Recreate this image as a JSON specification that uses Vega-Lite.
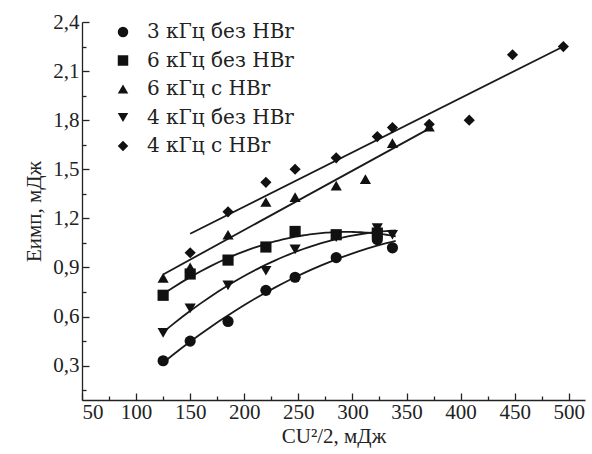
{
  "$schema": "https://vega.github.io/schema/vega-lite/v6.json",
  "width": 503,
  "height": 378,
  "autosize": "none",
  "padding": {"left": 82, "top": 22, "right": 7, "bottom": 54},
  "background": "white",
  "config": {
    "view": {"stroke": null},
    "font": "Liberation Serif",
    "axis": {"grid": false, "domainColor": "#222", "tickColor": "#222", "labelColor": "#222", "titleColor": "#222", "domainWidth": 1.3, "tickWidth": 1.3}
  },
  "data": {
    "values": [
      {"s": "3 кГц без HBr", "x": 125, "y": 0.33},
      {"s": "3 кГц без HBr", "x": 150, "y": 0.45},
      {"s": "3 кГц без HBr", "x": 185, "y": 0.57},
      {"s": "3 кГц без HBr", "x": 220, "y": 0.76},
      {"s": "3 кГц без HBr", "x": 247, "y": 0.84},
      {"s": "3 кГц без HBr", "x": 285, "y": 0.96},
      {"s": "3 кГц без HBr", "x": 323, "y": 1.07},
      {"s": "3 кГц без HBr", "x": 337, "y": 1.02},
      {"s": "6 кГц без HBr", "x": 125, "y": 0.73},
      {"s": "6 кГц без HBr", "x": 150, "y": 0.86},
      {"s": "6 кГц без HBr", "x": 185, "y": 0.945},
      {"s": "6 кГц без HBr", "x": 220, "y": 1.025},
      {"s": "6 кГц без HBr", "x": 247, "y": 1.12},
      {"s": "6 кГц без HBr", "x": 285, "y": 1.1},
      {"s": "6 кГц без HBr", "x": 323, "y": 1.11},
      {"s": "6 кГц с HBr", "x": 125, "y": 0.836},
      {"s": "6 кГц с HBr", "x": 150, "y": 0.9},
      {"s": "6 кГц с HBr", "x": 185, "y": 1.1},
      {"s": "6 кГц с HBr", "x": 220, "y": 1.3},
      {"s": "6 кГц с HBr", "x": 247, "y": 1.33},
      {"s": "6 кГц с HBr", "x": 285, "y": 1.4},
      {"s": "6 кГц с HBr", "x": 312, "y": 1.44},
      {"s": "6 кГц с HBr", "x": 337, "y": 1.66},
      {"s": "6 кГц с HBr", "x": 371, "y": 1.76},
      {"s": "4 кГц без HBr", "x": 125, "y": 0.5},
      {"s": "4 кГц без HBr", "x": 150, "y": 0.65},
      {"s": "4 кГц без HBr", "x": 185, "y": 0.79},
      {"s": "4 кГц без HBr", "x": 220, "y": 0.88},
      {"s": "4 кГц без HBr", "x": 247, "y": 1.01},
      {"s": "4 кГц без HBr", "x": 285, "y": 1.085},
      {"s": "4 кГц без HBr", "x": 323, "y": 1.14},
      {"s": "4 кГц без HBr", "x": 337, "y": 1.1},
      {"s": "4 кГц с HBr", "x": 150, "y": 0.99},
      {"s": "4 кГц с HBr", "x": 185, "y": 1.24},
      {"s": "4 кГц с HBr", "x": 220, "y": 1.42},
      {"s": "4 кГц с HBr", "x": 247, "y": 1.5},
      {"s": "4 кГц с HBr", "x": 285, "y": 1.57},
      {"s": "4 кГц с HBr", "x": 323, "y": 1.7},
      {"s": "4 кГц с HBr", "x": 337, "y": 1.755},
      {"s": "4 кГц с HBr", "x": 371, "y": 1.775},
      {"s": "4 кГц с HBr", "x": 408, "y": 1.8},
      {"s": "4 кГц с HBr", "x": 448, "y": 2.2},
      {"s": "4 кГц с HBr", "x": 495, "y": 2.25}
    ]
  },
  "resolve": {"axis": {"x": "independent", "y": "independent"}},
  "layer": [
    {
      "transform": [
        {"filter": {"field": "s", "oneOf": ["3 кГц без HBr", "6 кГц без HBr", "4 кГц без HBr"]}},
        {"regression": "y", "on": "x", "groupby": ["s"], "method": "poly", "order": 2, "extent": [125, 340]}
      ],
      "mark": {"type": "line", "color": "#1a1a1a", "strokeWidth": 1.8},
      "encoding": {
        "x": {"field": "x", "type": "quantitative", "scale": {"domain": [50, 515], "nice": false, "zero": false},
          "axis": {"orient": "bottom", "values": [75, 125, 175, 225, 275, 325, 375, 425, 475], "labels": false, "domain": false, "tickSize": -4, "title": null}},
        "y": {"field": "y", "type": "quantitative", "scale": {"domain": [0.09, 2.4], "nice": false, "zero": false},
          "axis": {"orient": "left", "values": [0.15, 0.45, 0.75, 1.05, 1.35, 1.65, 1.95, 2.25], "labels": false, "domain": false, "tickSize": -4, "title": null}},
        "detail": {"field": "s"}
      }
    },
    {
      "transform": [
        {"filter": {"field": "s", "oneOf": ["6 кГц с HBr", "4 кГц с HBr"]}},
        {"regression": "y", "on": "x", "groupby": ["s"]}
      ],
      "mark": {"type": "line", "color": "#1a1a1a", "strokeWidth": 1.8},
      "encoding": {
        "x": {"field": "x", "type": "quantitative", "axis": null},
        "y": {"field": "y", "type": "quantitative", "axis": null},
        "detail": {"field": "s"}
      }
    },
    {
      "mark": {"type": "point", "filled": true, "color": "#111", "size": 125, "opacity": 1},
      "encoding": {
        "x": {"field": "x", "type": "quantitative",
          "axis": {"orient": "bottom", "values": [50, 100, 150, 200, 250, 300, 350, 400, 450, 500], "tickSize": -7, "labelFontSize": 21, "labelPadding": 8, "title": "CU²/2, мДж", "titleFontSize": 21, "titleFontWeight": "normal", "titlePadding": 3}},
        "y": {"field": "y", "type": "quantitative",
          "axis": {"orient": "left", "values": [0.3, 0.6, 0.9, 1.2, 1.5, 1.8, 2.1, 2.4], "tickSize": -7, "labelFontSize": 21, "labelPadding": 10, "labelExpr": "replace(format(datum.value, '.1f'), '.', ',')", "title": "Eимп, мДж", "titleFontSize": 21, "titleFontWeight": "normal", "titlePadding": 8}},
        "shape": {"field": "s", "type": "nominal",
          "scale": {"domain": ["3 кГц без HBr", "6 кГц без HBr", "6 кГц с HBr", "4 кГц без HBr", "4 кГц с HBr"], "range": ["circle", "square", "triangle-up", "triangle-down", "diamond"]},
          "legend": {"orient": "none", "legendX": 31, "legendY": 0, "title": null, "labelFont": "DejaVu Serif", "labelFontSize": 20, "labelColor": "#222", "symbolFillColor": "#111", "symbolStrokeColor": "#111", "symbolSize": 110, "rowPadding": 8.5, "labelOffset": 14, "padding": 0}}
      }
    }
  ]
}
